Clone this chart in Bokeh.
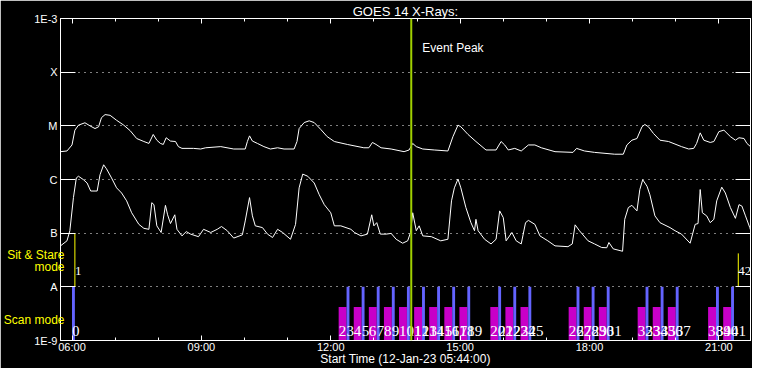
import pandas as pd
from bokeh.plotting import figure
from bokeh.models import (Range1d, FixedTicker, DatetimeTickFormatter, CustomJSTickFormatter,
                          DatetimeAxis, LogAxis, Span, Label, LabelSet, ColumnDataSource)
from bokeh.embed import file_html
from bokeh.resources import INLINE

DAY = "2023-01-12 "
title_text = "GOES 14 X-Rays:"
x_label = "Start Time (12-Jan-23 05:44:00)"
x_start, x_end = "05:44", "21:44"
x_major = ["06:00", "09:00", "12:00", "15:00", "18:00", "21:00"]
x_minor = ["07:00", "08:00", "10:00", "11:00", "13:00", "14:00", "16:00", "17:00",
           "19:00", "20:00"]
y_tick_values = [1e-9, 1e-8, 1e-7, 1e-6, 1e-5, 1e-4, 1e-3]
y_tick_labels = ["1E-9", "A", "B", "C", "M", "X", "1E-3"]
mode_labels = ["Scan mode", "mode", "Sit & Stare"]
mode_label_at = [2.46e-9, 2.34e-8, 3.9e-8]

long_time = ["05:44", "05:53", "06:00", "06:04", "06:09", "06:18", "06:25", "06:32", "06:37",
             "06:41", "06:46", "06:53", "07:02", "07:12", "07:21", "07:30", "07:40", "07:47",
             "07:53", "07:58", "08:03", "08:07", "08:11", "08:17", "08:24", "08:28", "08:33",
             "08:49", "08:59", "09:06", "09:27", "09:45", "10:01", "10:04", "10:07", "10:11",
             "10:18", "10:27", "10:36", "10:46", "10:55", "11:09", "11:13", "11:16", "11:23",
             "11:30", "11:37", "11:46", "11:55", "12:05", "12:23", "12:46", "12:53", "12:58",
             "13:03", "13:10", "13:24", "13:42", "13:49", "13:54", "13:59", "14:08", "14:24",
             "14:43", "14:50", "14:57", "15:01", "15:11", "15:22", "15:36", "15:50", "15:57",
             "16:02", "16:07", "16:16", "16:25", "16:35", "16:44", "16:53", "17:12", "17:37",
             "17:42", "17:53", "18:07", "18:35", "18:47", "18:52", "18:59", "19:06", "19:13",
             "19:17", "19:22", "19:29", "19:38", "19:50", "20:08", "20:18", "20:25", "20:29",
             "20:34", "20:39", "20:48", "20:53", "21:00", "21:07", "21:16", "21:23", "21:28",
             "21:35", "21:39", "21:44"]
long_flux = [3.3e-6, 3.4e-6, 4.4e-6, 8.3e-6, 1.03e-5, 1.14e-5, 1.0e-5, 8.9e-6, 9.6e-6,
             1.42e-5, 1.62e-5, 1.57e-5, 1.27e-5, 1.03e-5, 8.1e-6, 5.8e-6, 5.1e-6, 4.7e-6,
             6.9e-6, 5.4e-6, 4.7e-6, 4.5e-6, 6.0e-6, 5.2e-6, 5.1e-6, 4.1e-6, 3.8e-6,
             3.8e-6, 3.7e-6, 3.9e-6, 4.1e-6, 3.7e-6, 3.7e-6, 5.1e-6, 6.5e-6, 5.2e-6,
             4.7e-6, 4.1e-6, 3.7e-6, 3.9e-6, 3.7e-6, 3.7e-6, 5.1e-6, 8.9e-6, 1.15e-5,
             1.24e-5, 1.15e-5, 8.6e-6, 6.3e-6, 5.1e-6, 4.5e-6, 3.9e-6, 3.9e-6, 4.9e-6,
             4.5e-6, 3.9e-6, 3.7e-6, 3.3e-6, 3.55e-6, 4.7e-6, 4.1e-6, 3.7e-6, 3.55e-6,
             3.4e-6, 6.3e-6, 1.03e-5, 9.6e-6, 6.9e-6, 5.1e-6, 3.55e-6, 3.55e-6, 5.1e-6,
             4.4e-6, 3.55e-6, 3.8e-6, 3.4e-6, 4.4e-6, 4.4e-6, 3.9e-6, 3.3e-6, 3.2e-6,
             3.8e-6, 3.4e-6, 3.2e-6, 2.96e-6, 2.96e-6, 4.4e-6, 5.4e-6, 5.8e-6, 9.6e-6,
             1.06e-5, 9.6e-6, 7.2e-6, 5.4e-6, 5.1e-6, 4.1e-6, 3.7e-6, 3.8e-6, 4.7e-6,
             7.4e-6, 5.4e-6, 4.9e-6, 5.1e-6, 7.8e-6, 8.3e-6, 6.3e-6, 5.4e-6, 6.0e-6,
             5.8e-6, 4.7e-6, 4.1e-6]

short_time = ["05:44", "05:53", "05:57", "06:02", "06:06", "06:09", "06:16", "06:21", "06:26",
              "06:35", "06:39", "06:44", "06:48", "06:55", "07:02", "07:09", "07:16", "07:23",
              "07:33", "07:40", "07:47", "07:51", "07:54", "07:58", "08:04", "08:10", "08:13",
              "08:17", "08:23", "08:26", "08:33", "08:39", "08:45", "08:56", "09:03", "09:13",
              "09:22", "09:28", "09:36", "09:45", "09:57", "10:01", "10:07", "10:11", "10:15",
              "10:25", "10:32", "10:39", "10:46", "10:53", "11:04", "11:11", "11:16", "11:21",
              "11:28", "11:37", "11:44", "11:51", "12:00", "12:05", "12:14", "12:28", "12:33",
              "12:42", "12:51", "12:57", "13:00", "13:04", "13:09", "13:17", "13:24", "13:31",
              "13:40", "13:47", "13:51", "13:54", "13:59", "14:03", "14:08", "14:20", "14:33",
              "14:43", "14:48", "14:52", "14:57", "15:01", "15:08", "15:15", "15:20", "15:22",
              "15:25", "15:34", "15:43", "15:50", "15:55", "16:00", "16:04", "16:12", "16:18",
              "16:25", "16:31", "16:35", "16:44", "16:51", "17:02", "17:12", "17:30", "17:36",
              "17:40", "17:46", "17:58", "18:07", "18:17", "18:24", "18:27", "18:33", "18:46",
              "18:49", "18:54", "18:59", "19:06", "19:10", "19:14", "19:20", "19:24", "19:31",
              "19:38", "19:52", "19:59", "20:08", "20:20", "20:27", "20:31", "20:34", "20:37",
              "20:43", "20:48", "20:53", "20:57", "21:04", "21:09", "21:16", "21:23", "21:28",
              "21:32", "21:37", "21:43", "21:44"]
short_flux = [5.8e-8, 7.2e-8, 1.11e-7, 4.6e-7, 1.07e-6, 1.15e-6, 9.9e-7, 8.6e-7, 6.1e-7,
              6.1e-7, 1.23e-6, 1.88e-6, 1.58e-6, 1.07e-6, 7.0e-7, 5.6e-7, 4.0e-7, 2.4e-7,
              1.46e-7, 1.23e-7, 1.18e-7, 3.7e-7, 3.4e-7, 1.37e-7, 1.03e-7, 3.3e-7, 2.2e-7,
              1.51e-7, 2.2e-7, 1.18e-7, 8.9e-8, 1.07e-7, 9.6e-8, 8.6e-8, 1.18e-7, 1.03e-7,
              1.18e-7, 1.33e-7, 1.11e-7, 8.1e-8, 9.3e-8, 1.69e-7, 4.6e-7, 2.1e-7, 1.37e-7,
              1.27e-7, 9.6e-8, 8.3e-8, 1.18e-7, 1.03e-7, 7.7e-8, 1.46e-7, 7.0e-7, 1.26e-6,
              1.15e-6, 8.6e-7, 5.2e-7, 3.4e-7, 2.4e-7, 1.37e-7, 1.37e-7, 1.18e-7, 1.03e-7,
              8.9e-8, 9.6e-8, 2.2e-7, 1.37e-7, 1.57e-7, 9.6e-8, 9.6e-8, 9.9e-8, 7.7e-8,
              6.5e-8, 7.2e-8, 1.03e-7, 2.4e-7, 1.11e-7, 1.37e-7, 8.9e-8, 8.6e-8, 7.2e-8,
              7.7e-8, 4.0e-7, 7.0e-7, 1.02e-6, 7.0e-7, 3.0e-7, 1.57e-7, 1.11e-7, 1.81e-7,
              1.11e-7, 7.7e-8, 6.3e-8, 7.7e-8, 2.6e-7, 1.95e-7, 7.2e-8, 1.03e-7, 7.2e-8,
              6.3e-8, 1.57e-7, 1.73e-7, 1.46e-7, 8.9e-8, 7.2e-8, 5.8e-8, 5.6e-8, 6.3e-8,
              1.43e-7, 1.11e-7, 7.2e-8, 6.3e-8, 5.4e-8, 5.35e-8, 6.7e-8, 5.1e-8, 4.6e-8,
              1.81e-7, 3.0e-7, 3.3e-7, 2.6e-7, 6.5e-7, 9.9e-7, 7.5e-7, 5.2e-7, 2.1e-7,
              1.57e-7, 1.27e-7, 1.11e-7, 9.6e-8, 6.5e-8, 1.46e-7, 1.51e-7, 6.5e-7, 2.4e-7,
              2.1e-7, 1.57e-7, 1.81e-7, 4.0e-7, 7.2e-7, 5.6e-7, 3.0e-7, 1.89e-7, 3.4e-7,
              3.2e-7, 2.1e-7, 1.27e-7, 1.15e-7]

# scan-mode intervals (magenta = long scans, blue = short scans)
mag_start = ["12:11", "12:32", "12:53", "13:14", "13:35", "13:56", "14:17", "14:38", "14:59",
             "15:42", "16:03", "16:24", "17:31", "17:52", "18:13", "19:07", "19:28", "19:49",
             "20:45", "21:06"]
mag_end = ["12:22", "12:43", "13:04", "13:25", "13:46", "14:07", "14:28", "14:49", "15:10",
           "15:53", "16:14", "16:35", "17:42", "18:03", "18:24", "19:18", "19:39", "20:00",
           "20:56", "21:17"]
mag_top = 4.2e-9
blue_start = ["06:00", "12:22", "12:43", "13:04", "13:25", "13:46", "14:07", "14:28", "14:49",
              "15:10", "15:53", "16:14", "16:35", "17:42", "18:03", "18:24", "19:18", "19:39",
              "20:00", "20:56", "21:17"]
blue_end = ["06:04", "12:26", "12:47", "13:08", "13:29", "13:50", "14:11", "14:32", "14:53",
            "15:14", "15:57", "16:18", "16:39", "17:46", "18:07", "18:28", "19:22", "19:43",
            "20:04", "21:00", "21:21"]
blue_top = 1e-8
stare_start = ["06:04", "21:27"]
stare_top = [1e-7, 4.2e-8]
peak_time = "13:52"

WHITE, YELLOW, BLUE, MAGENTA, GREEN = "#ffffff", "#ffff00", "#6464ff", "#c800c8", "#a0d000"
FONT = "Liberation Sans"


def ms(hhmm):
    return pd.Timestamp(DAY + hhmm).value / 1e6


def ms_list(seq):
    return [ms(t) for t in seq]


t0, t1 = ms(x_start), ms(x_end)
p = figure(width=752, height=368, x_axis_type="datetime", y_axis_type="log",
           x_range=Range1d(t0, t1), y_range=Range1d(y_tick_values[0], y_tick_values[-1]),
           output_backend="svg", toolbar_location=None,
           background_fill_color="black", border_fill_color="black",
           outline_line_color=WHITE,
           min_border_left=60, min_border_right=2, min_border_top=18, min_border_bottom=28)

xticker = FixedTicker(ticks=ms_list(x_major), minor_ticks=ms_list(x_minor))
fmt = "%H:%M"
xfmt = DatetimeTickFormatter(minutes=fmt, hourmin=fmt, hours=fmt, days=fmt)
blank = CustomJSTickFormatter(code="return '';")


def style_axis(ax, tick_in, minor_in):
    ax.axis_line_color = WHITE
    ax.major_tick_line_color = WHITE
    ax.minor_tick_line_color = WHITE if minor_in else None
    ax.major_tick_in = tick_in
    ax.major_tick_out = 0
    ax.minor_tick_in = minor_in
    ax.minor_tick_out = 0
    ax.major_label_text_color = WHITE
    ax.major_label_text_font = FONT
    ax.major_label_text_font_size = "11px"
    ax.axis_label_text_color = WHITE
    ax.axis_label_text_font = FONT
    ax.axis_label_text_font_style = "normal"


xa = p.xaxis[0]
xa.ticker = xticker
xa.formatter = xfmt
style_axis(xa, 5, 3)
xa.major_label_standoff = 0
xa.axis_label = x_label
xa.axis_label_text_font_size = "12px"
xa.axis_label_standoff = -4

top = DatetimeAxis(ticker=xticker, formatter=blank)
style_axis(top, 5, 3)
top.major_label_text_font_size = "1px"
top.major_label_standoff = 0
top.axis_label = title_text
top.axis_label_text_font_size = "13px"
top.axis_label_standoff = 0
p.add_layout(top, "above")

ya = p.yaxis[0]
ya.ticker = FixedTicker(ticks=y_tick_values)
ya.formatter = CustomJSTickFormatter(args=dict(labels=y_tick_labels),
                                     code="return labels[Math.round(Math.log10(tick)) + 9];")
style_axis(ya, 15, 0)
ya.major_label_standoff = 3

# yellow mode captions: a second, line-less left axis whose tick labels are the captions
mode_axis = LogAxis(ticker=FixedTicker(ticks=mode_label_at),
                    formatter=CustomJSTickFormatter(
                        args=dict(labels=mode_labels, values=mode_label_at),
                        code="""
for (let i = 0; i < values.length; i++) {
  if (Math.abs(Math.log10(tick) - Math.log10(values[i])) < 1e-6) return labels[i];
}
return '';"""))
mode_axis.axis_line_color = None
mode_axis.major_tick_line_color = None
mode_axis.minor_tick_line_color = None
mode_axis.major_label_text_color = YELLOW
mode_axis.major_label_text_font = FONT
mode_axis.major_label_text_font_size = "12px"
mode_axis.major_label_standoff = -39
p.add_layout(mode_axis, "left")

right = LogAxis(ticker=FixedTicker(ticks=y_tick_values), formatter=blank)
style_axis(right, 15, 0)
right.major_label_text_font_size = "1px"
right.major_label_standoff = 0
p.add_layout(right, "right")

p.xgrid.visible = False
p.ygrid.ticker = FixedTicker(ticks=y_tick_values[1:-1])
p.ygrid.grid_line_color = WHITE
p.ygrid.grid_line_dash = "1 5"
p.ygrid.grid_line_width = 1

# flux curves
p.line(ms_list(long_time), long_flux, line_color=WHITE, line_width=1)
p.line(ms_list(short_time), short_flux, line_color=WHITE, line_width=1)

# scan bars
p.quad(left=ms_list(mag_start), right=ms_list(mag_end),
       bottom=y_tick_values[0], top=mag_top, fill_color=MAGENTA, line_color=None)
p.quad(left=ms_list(blue_start), right=ms_list(blue_end),
       bottom=y_tick_values[0], top=blue_top, fill_color=BLUE, line_color=None)

# sit & stare markers
p.segment(x0=ms_list(stare_start), y0=blue_top, x1=ms_list(stare_start),
          y1=stare_top, line_color=YELLOW, line_width=1)

# event labels, numbered in time order
scan_times = sorted(mag_start + blue_start)
all_times = sorted(scan_times + stare_start)
scan_src = ColumnDataSource(dict(x=ms_list(scan_times), y=[y_tick_values[0]] * len(scan_times),
                                 text=[str(all_times.index(t)) for t in scan_times]))
stare_src = ColumnDataSource(dict(x=ms_list(stare_start), y=[blue_top] * len(stare_start),
                                  text=[str(all_times.index(t)) for t in stare_start]))
p.add_layout(LabelSet(x="x", y="y", text="text", source=scan_src, x_offset=0, y_offset=5,
                      text_color=WHITE, text_font=FONT, text_font_size="15px",
                      text_baseline="alphabetic"))
p.add_layout(LabelSet(x="x", y="y", text="text", source=stare_src, x_offset=0, y_offset=12,
                      text_color=WHITE, text_font=FONT, text_font_size="13px",
                      text_baseline="alphabetic"))

# event peak
p.add_layout(Span(location=ms(peak_time), dimension="height", line_color=GREEN, line_width=2))
p.add_layout(Label(x=ms(peak_time), y=y_tick_values[-1], x_offset=11, y_offset=-29,
                   text="Event Peak", text_color=WHITE, text_font=FONT, text_font_size="12px",
                   text_baseline="alphabetic"))

open("out.html", "w").write(file_html(p, INLINE))
